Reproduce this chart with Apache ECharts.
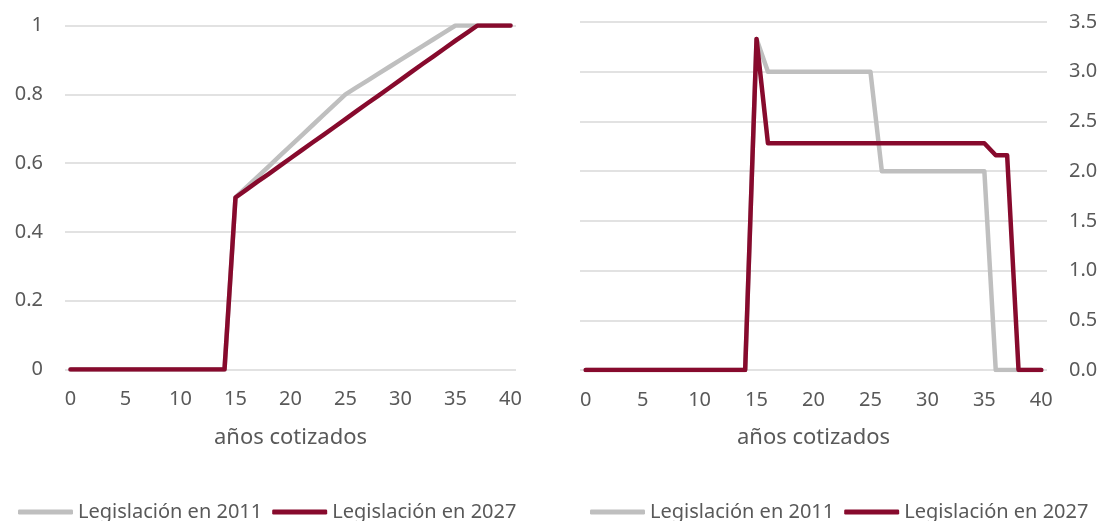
<!DOCTYPE html>
<html>
<head>
<meta charset="utf-8">
<title>Pensión según años cotizados</title>
<script src="https://cdn.jsdelivr.net/npm/echarts@6/dist/echarts.min.js"></script>
<style>
  html, body { margin: 0; padding: 0; background: #fff; }
  #chart { width: 1103px; height: 521px; }
</style>
</head>
<body>
<div id="chart"></div>
<script>
// años cotizados 0..40
const years = ['0','1','2','3','4','5','6','7','8','9','10','11','12','13','14','15','16','17','18','19','20',
  '21','22','23','24','25','26','27','28','29','30','31','32','33','34','35','36','37','38','39','40'];

// izquierda: porcentaje de la base reguladora
const pct2011 = [0,0,0,0,0,0,0,0,0,0,0,0,0,0,0,
  0.50,0.53,0.56,0.59,0.62,0.65,0.68,0.71,0.74,0.77,0.80,
  0.82,0.84,0.86,0.88,0.90,0.92,0.94,0.96,0.98,1.00,
  1.00,1.00,1.00,1.00,1.00];
const pct2027 = [0,0,0,0,0,0,0,0,0,0,0,0,0,0,0,
  0.500,0.523,0.546,0.568,0.591,0.614,0.637,0.660,0.682,0.705,0.728,
  0.751,0.774,0.796,0.819,0.842,0.865,0.888,0.910,0.933,0.956,
  0.978,1.000,1.000,1.000,1.000];

// derecha: incremento por año adicional
const inc2011 = [0,0,0,0,0,0,0,0,0,0,0,0,0,0,0,
  3.33,3.0,3.0,3.0,3.0,3.0,3.0,3.0,3.0,3.0,3.0,
  2.0,2.0,2.0,2.0,2.0,2.0,2.0,2.0,2.0,2.0,
  0,0,0,0,0];
const inc2027 = [0,0,0,0,0,0,0,0,0,0,0,0,0,0,0,
  3.33,2.28,2.28,2.28,2.28,2.28,2.28,2.28,2.28,2.28,2.28,
  2.28,2.28,2.28,2.28,2.28,2.28,2.28,2.28,2.28,2.28,
  2.16,2.16,0,0,0];

const leftTicks = { min: 0, max: 1, interval: 0.2 };
const rightTicks = { min: 0, max: 3.5, interval: 0.5 };

const GRAY = '#bfbfbf';
const RED = '#870a2d';
const TXT = '#595959';
const FONT = 'Noto Sans';

const chart = echarts.init(document.getElementById('chart'));

function xAxisFor(gridIndex) {
  return {
    type: 'category',
    gridIndex: gridIndex,
    data: years,
    boundaryGap: true,
    name: 'años cotizados',
    nameLocation: 'middle',
    nameGap: 57,
    nameTextStyle: { color: TXT, fontSize: 22, fontFamily: FONT },
    axisLine: { show: false },
    axisTick: { show: false },
    axisLabel: { interval: 4, color: TXT, fontSize: 20, fontFamily: FONT, margin: 20 }
  };
}

function yAxisFor(gridIndex, ticks, position, fmt) {
  return {
    type: 'value',
    gridIndex: gridIndex,
    position: position,
    min: ticks.min,
    max: ticks.max,
    interval: ticks.interval,
    axisLine: { show: false },
    axisTick: { show: false },
    splitLine: { lineStyle: { color: '#d9d9d9', width: 1.5 } },
    axisLabel: { color: TXT, fontSize: 20, fontFamily: FONT, margin: 22, formatter: fmt }
  };
}

function lineSeries(name, color, data, idx) {
  return {
    name: name,
    type: 'line',
    xAxisIndex: idx,
    yAxisIndex: idx,
    data: data,
    showSymbol: false,
    symbol: 'none',
    lineStyle: { color: color, width: 4.5, cap: 'round', join: 'round' },
    itemStyle: { color: color },
    emphasis: { disabled: true }
  };
}

function legendAt(left) {
  return {
    left: left,
    top: 502,
    padding: 0,
    icon: 'roundRect',
    itemWidth: 55,
    itemHeight: 5,
    itemGap: 10,
    textStyle: { color: TXT, fontSize: 20, fontFamily: FONT },
    data: ['Legislación en 2011', 'Legislación en 2027']
  };
}

const option = {
  animation: false,
  backgroundColor: '#fff',
  grid: [
    { left: 65, top: 25.5, width: 451, height: 344 },
    { left: 580, top: 22, width: 467, height: 348 }
  ],
  legend: [legendAt(18), legendAt(590)],
  xAxis: [xAxisFor(0), xAxisFor(1)],
  yAxis: [
    yAxisFor(0, leftTicks, 'left', function (v) { return String(+v.toFixed(1)); }),
    yAxisFor(1, rightTicks, 'right', function (v) { return v.toFixed(1); })
  ],
  series: [
    lineSeries('Legislación en 2011', GRAY, pct2011, 0),
    lineSeries('Legislación en 2027', RED, pct2027, 0),
    lineSeries('Legislación en 2011', GRAY, inc2011, 1),
    lineSeries('Legislación en 2027', RED, inc2027, 1)
  ]
};

chart.setOption(option);
</script>
</body>
</html>
